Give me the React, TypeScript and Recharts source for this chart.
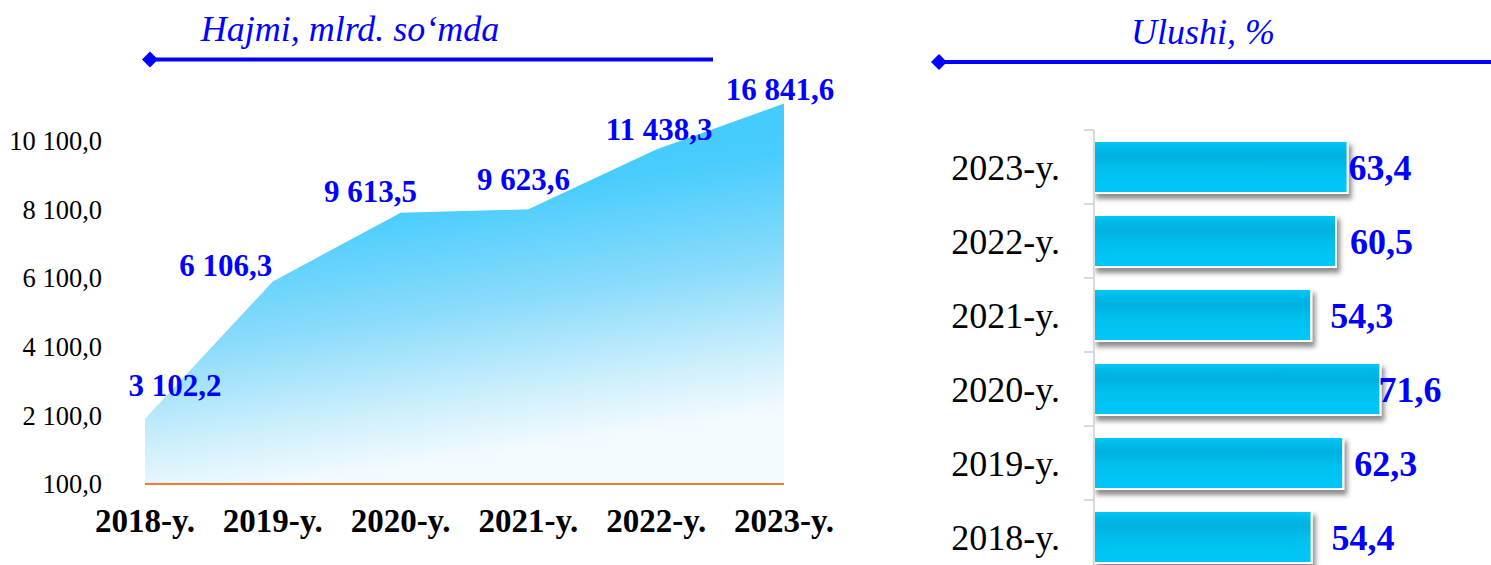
import { AreaChart, Area, BarChart, Bar, XAxis, YAxis, LabelList } from "recharts";

const years = ["2018-y.", "2019-y.", "2020-y.", "2021-y.", "2022-y.", "2023-y."];
// heights as drawn in the picture, and the printed labels
const volumeHeights = [2000, 6000, 8000, 8100, 9840, 11180];
const volumeLabels = ["3 102,2", "6 106,3", "9 613,5", "9 623,6", "11 438,3", "16 841,6"];
const volumeTicks = [100, 2100, 4100, 6100, 8100, 10100];

const shareYears = ["2023-y.", "2022-y.", "2021-y.", "2020-y.", "2019-y.", "2018-y."];
const shareValues = [63.4, 60.5, 54.3, 71.6, 62.3, 54.4];

const SERIF = '"Liberation Serif", "Times New Roman", serif';
const BLUE = "#0000ff";

const fmt = (n: number, digits = 1) => {
  const [i, d] = n.toFixed(digits).split(".");
  return i.replace(/\B(?=(\d{3})+(?!\d))/g, " ") + "," + d;
};

// label nudges (center dx, baseline dy) relative to each point
const areaLabelNudge = [
  [30, -23],
  [-47, -5],
  [-30, -11],
  [-5, -19],
  [3, -10],
  [-4, -4],
];
const barLabelNudge = [1, 14, 19, -2, 11, 20];

const volumeData = years.map((y, i) => ({ year: y, v: volumeHeights[i], label: volumeLabels[i] }));
const shareData = shareYears.map((y, i) => ({ year: y, v: shareValues[i] }));

function VolumeChart() {
  return (
    <AreaChart width={850} height={565} data={volumeData} margin={{ top: 72, right: 66, left: 0, bottom: 21 }}>
      <defs>
        <linearGradient id="areaFill" x1="0" y1="0" x2="0.25" y2="1">
          <stop offset="0" stopColor="#40cafd" />
          <stop offset="0.35" stopColor="#47ccfd" />
          <stop offset="0.62" stopColor="#8adbfb" />
          <stop offset="0.85" stopColor="#cdeffc" />
          <stop offset="1" stopColor="#f4fbfe" />
        </linearGradient>
      </defs>
      <XAxis
        dataKey="year"
        height={60}
        tickSize={0}
        tickMargin={0}
        axisLine={{ stroke: "#ed7d31", strokeWidth: 2 }}
        tickLine={false}
        interval={0}
        tick={({ x, y, payload }: any) => (
          <text x={x} y={y + 48} textAnchor="middle" fontFamily={SERIF} fontWeight="bold" fontSize={33} fill="#000">
            {payload.value}
          </text>
        )}
      />
      <YAxis
        width={145}
        domain={[100, 12100]}
        ticks={volumeTicks}
        axisLine={false}
        tickLine={false}
        tickSize={0}
        tickMargin={0}
        tick={({ x, y, payload }: any) => (
          <text x={x - 43} y={y} dy="0.35em" textAnchor="end" fontFamily={SERIF} fontSize={26.5} fill="#000">
            {fmt(payload.value)}
          </text>
        )}
      />
      <Area
        type="linear"
        dataKey="v"
        baseValue={100}
        stroke="none"
        fill="url(#areaFill)"
        fillOpacity={1}
        isAnimationActive={false}
      >
        <LabelList
          dataKey="label"
          content={({ x, y, value, index }: any) => {
            const [dx, dy] = areaLabelNudge[index] || [0, -8];
            return (
              <text x={x + dx} y={y + dy} textAnchor="middle" fontFamily={SERIF} fontWeight="bold" fontSize={31} fill={BLUE}>
                {value}
              </text>
            );
          }}
        />
      </Area>
    </AreaChart>
  );
}

function ShareChart() {
  return (
    <BarChart
      width={591}
      height={580}
      data={shareData}
      layout="vertical"
      margin={{ top: 130, right: 37, left: 0, bottom: 6 }}
    >
      <defs>
        <linearGradient id="barFill" x1="0" y1="0" x2="0" y2="1">
          <stop offset="0" stopColor="#00cbfb" />
          <stop offset="0.15" stopColor="#00b9e7" />
          <stop offset="0.3" stopColor="#00b1de" />
          <stop offset="0.55" stopColor="#00c0ef" />
          <stop offset="1" stopColor="#00c8fa" />
        </linearGradient>
        <filter id="barShadow" x="-10%" y="-20%" width="130%" height="160%">
          <feDropShadow dx="3" dy="5" stdDeviation="2.5" floodColor="#000" floodOpacity="0.45" />
        </filter>
      </defs>
      <XAxis type="number" domain={[0, 90]} hide />
      <YAxis
        type="category"
        dataKey="year"
        width={194}
        axisLine={{ stroke: "#d9d9d9", strokeWidth: 2 }}
        tickLine={false}
        tickSize={0}
        tickMargin={0}
        interval={0}
        tick={({ x, y, payload, index }: any) => (
          <g>
            <line x1={x - 10} x2={x} y1={y - 37} y2={y - 37} stroke="#d9d9d9" strokeWidth={2} />
            {index === shareYears.length - 1 && (
              <line x1={x - 10} x2={x} y1={y + 37} y2={y + 37} stroke="#d9d9d9" strokeWidth={2} />
            )}
            <text x={x - 34} y={y} dy="0.35em" textAnchor="end" fontFamily={SERIF} fontSize={36} fill="#000">
              {payload.value}
            </text>
          </g>
        )}
      />
      <Bar
        dataKey="v"
        barSize={52}
        fill="url(#barFill)"
        stroke="#ffffff"
        strokeWidth={2}
        filter="url(#barShadow)"
        isAnimationActive={false}
      >
        <LabelList
          dataKey="v"
          content={({ x, y, width, height, value, index }: any) => (
            <text
              x={x + width + (barLabelNudge[index] ?? 8)}
              y={y + height / 2}
              dy="0.35em"
              textAnchor="start"
              fontFamily={SERIF}
              fontWeight="bold"
              fontSize={36}
              fill={BLUE}
            >
              {fmt(value)}
            </text>
          )}
        />
      </Bar>
    </BarChart>
  );
}

function Titles() {
  return (
    <svg width={1491} height={565} style={{ position: "absolute", left: 0, top: 0, pointerEvents: "none" }}>
      <text x={350} y={41} textAnchor="middle" fontFamily={SERIF} fontStyle="italic" fontSize={36} fill={BLUE}>
        Hajmi, mlrd. so‘mda
      </text>
      <line x1={150} x2={713} y1={59.5} y2={59.5} stroke={BLUE} strokeWidth={4} />
      <polygon points="142,59.5 150,51.5 158,59.5 150,67.5" fill={BLUE} />
      <text x={1203} y={44} textAnchor="middle" fontFamily={SERIF} fontStyle="italic" fontSize={36} fill={BLUE}>
        Ulushi, %
      </text>
      <line x1={939} x2={1491} y1={62} y2={62} stroke={BLUE} strokeWidth={4} />
      <polygon points="931,62 939,54 947,62 939,70" fill={BLUE} />
    </svg>
  );
}

export default function App() {
  return (
    <div
      style={{
        position: "fixed",
        left: 0,
        top: 0,
        width: 1491,
        height: 565,
        overflow: "hidden",
        background: "#fff",
      }}
    >
      <div style={{ position: "absolute", left: 0, top: 0 }}>
        <VolumeChart />
      </div>
      <div style={{ position: "absolute", left: 900, top: 0 }}>
        <ShareChart />
      </div>
      <Titles />
    </div>
  );
}
